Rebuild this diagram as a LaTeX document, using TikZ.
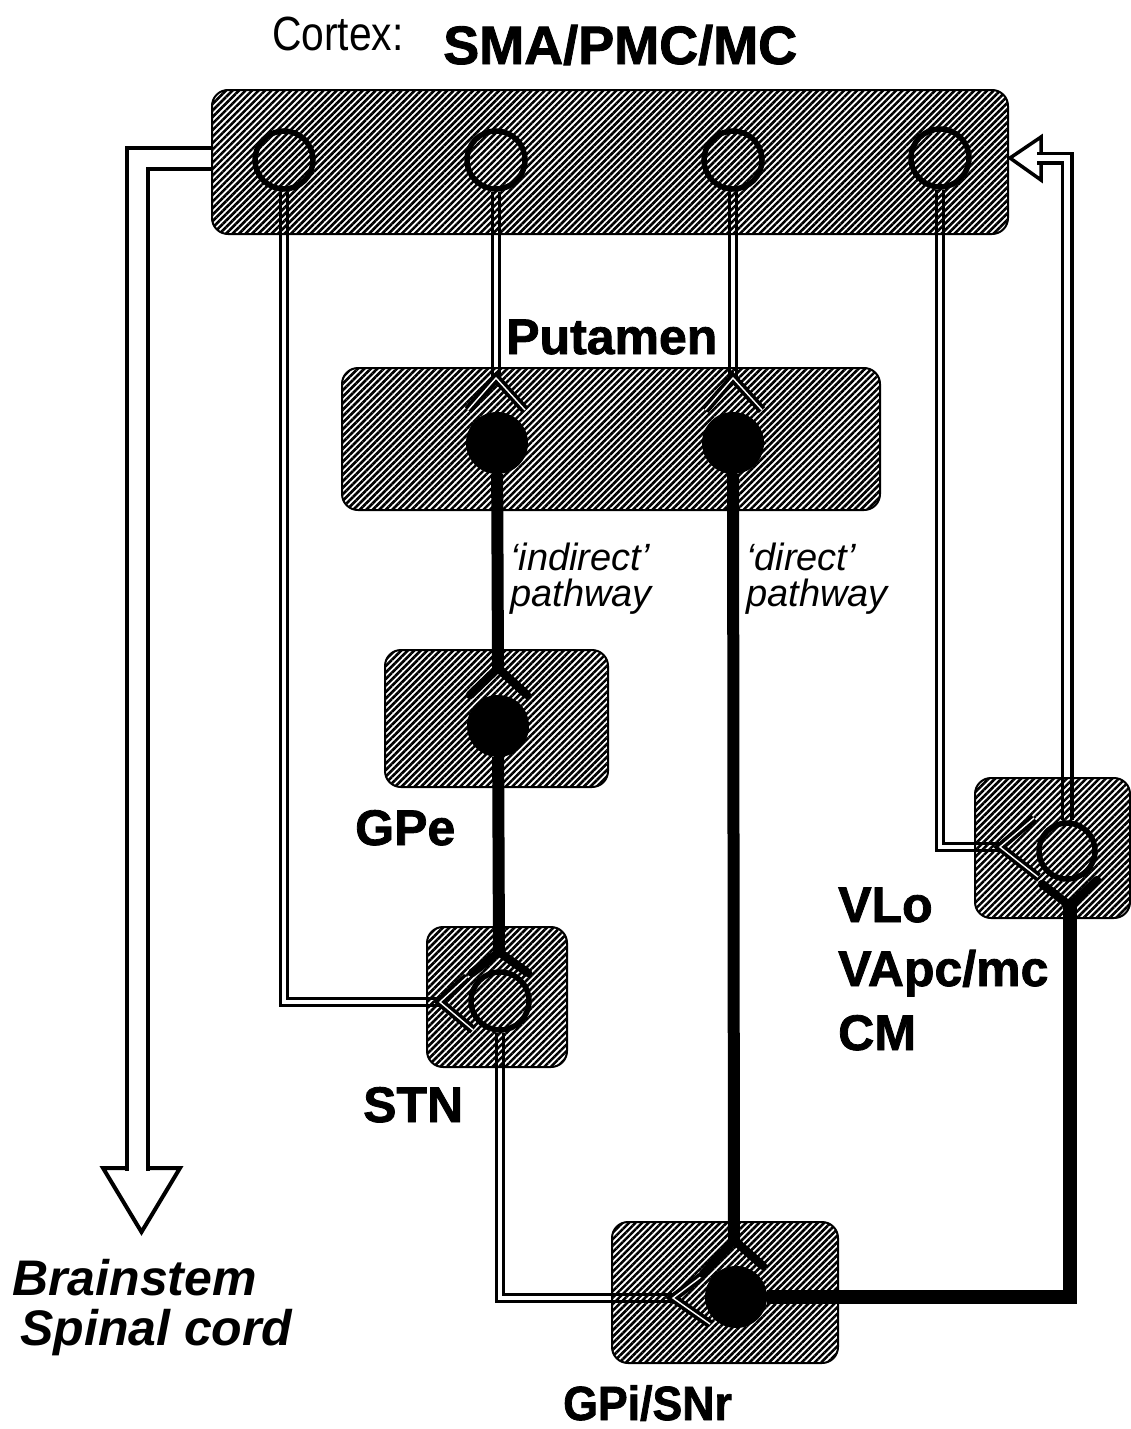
\documentclass[tikz,border=0pt]{standalone}
\usepackage{fontspec}
\setmainfont{Liberation Sans}[BoldFeatures={FakeBold=1.6}]
\usetikzlibrary{patterns.meta}
\pgfdeclarelayer{wires}
\pgfdeclarelayer{regions}
\pgfdeclarelayer{forks}
\pgfsetlayers{wires,regions,forks,main}
\begin{document}
\begin{tikzpicture}[x=1pt,y=-1pt,
  region/.style={draw=black, line width=2, rounded corners=16, inner sep=0,
    pattern={Lines[angle=45,distance=4.6pt,line width=2.6pt]}},
  opencell/.style={circle, draw=black, line width=5.5, inner sep=0, minimum size=58},
  solidcell/.style={circle, fill=black, inner sep=0, minimum size=62},
  exc/.style={draw=black, line width=3, double=white, double distance=4.5, line join=miter},
  bigexc/.style={draw=black, line width=4, double=white, double distance=17, line join=miter},
  excarm/.style={draw=black, line width=3.6, double=white, double distance=1.4, line join=miter},
  inh/.style={draw=black, line width=12, line join=miter},
  inharm/.style={draw=black, line width=8.5, line join=miter, line cap=round},
  hollowhead/.style={draw=black, fill=white, line width=3.5, line join=miter},
  lab/.style={anchor=base west, inner sep=0, font=\fontsize{50}{50}\selectfont\bfseries},
  pathlab/.style={anchor=base west, inner sep=0, font=\fontsize{38}{38}\selectfont\itshape},
]
\useasboundingbox (0,0) rectangle (1131,1429);

% ---------- cells ----------
\node[opencell] (c1) at (284,160) {};
\node[opencell] (c2) at (496,160) {};
\node[opencell] (c3) at (733,160) {};
\node[opencell] (c4) at (940,158) {};
\node[solidcell] (p1) at (497,443) {};
\node[solidcell] (p2) at (733,443) {};
\node[solidcell] (gpe) at (498,726) {};
\node[opencell] (stn) at (500,1001) {};
\node[solidcell] (gpi) at (736,1297) {};
\node[opencell, minimum size=56] (vl) at (1067,851) {};

% ---------- synapse points ----------
\coordinate (pv1) at (496,378); \coordinate (pv1a) at (468,410); \coordinate (pv1b) at (525,410);
\coordinate (pv2) at (733,378); \coordinate (pv2a) at (705,410); \coordinate (pv2b) at (762,410);
\coordinate (gpev) at (498,668); \coordinate (gpeva) at (470,695); \coordinate (gpevb) at (527,695);
\coordinate (stnv) at (499,952); \coordinate (stnva) at (472,973); \coordinate (stnvb) at (528,973);
\coordinate (stnx) at (440,1002); \coordinate (stnxa) at (467,977); \coordinate (stnxb) at (473,1030);
\coordinate (gpiv) at (734,1240); \coordinate (gpiva) at (703,1274); \coordinate (gpivb) at (763,1266);
\coordinate (gpix) at (673,1298); \coordinate (gpixa) at (702,1276); \coordinate (gpixb) at (710,1324);
\coordinate (vlx) at (1000,847); \coordinate (vlxa) at (1034,818); \coordinate (vlxb) at (1038,877);
\coordinate (vlv) at (1070,906); \coordinate (vlva) at (1042,884); \coordinate (vlvb) at (1097,880);
\coordinate (bs0) at (213,158); \coordinate (bs1) at (137.5,158); \coordinate (bs2) at (137.5,1171);
\coordinate (bsl) at (103,1168); \coordinate (bsr) at (180,1168); \coordinate (bstip) at (141.5,1232);
\coordinate (ah) at (1037,158); \coordinate (ahtip) at (1010,158);
\coordinate (ahu) at (1041,137); \coordinate (ahd) at (1041,180);

% ---------- connectors ----------
\begin{pgfonlayer}{wires}
  \draw[hollowhead, line width=4] (bsl) -- (bsr) -- (bstip) -- cycle;
  \draw[bigexc] (bs0) -- (bs1) -- (bs2);
  \draw[hollowhead] (ahtip) -- (ahu) -- (ahd) -- cycle;
  \draw[exc, line width=3.5, double distance=6] (vl.north) |- (ah);
  \draw[exc] (c1.south) |- (stnx);
  \draw[exc] (c2.south) -- (pv1);
  \draw[exc] (c3.south) -- (pv2);
  \draw[exc] (c4.south) |- (vlx);
  \draw[exc] (stn.south) |- (gpix);
  \draw[inh] (p1) -- (gpev);
  \draw[inh] (gpe) -- (stnv);
  \draw[inh] (p2) -- (gpiv);
  \draw[inh, line width=14] (gpi) -| (vlv);
\end{pgfonlayer}

% ---------- regions ----------
\begin{pgfonlayer}{regions}
  \node[region, minimum width=796, minimum height=144] (cortex) at (610,162) {};
  \node[region, minimum width=538, minimum height=142] (putamen) at (611,439) {};
  \node[region, minimum width=223, minimum height=137] (gperegion) at (496.5,718.5) {};
  \node[region, minimum width=140, minimum height=140] (stnregion) at (497,997) {};
  \node[region, minimum width=226, minimum height=141] (gpiregion) at (725,1292.5) {};
  \node[region, minimum width=155, minimum height=140] (vlregion) at (1052.5,848) {};
\end{pgfonlayer}

% ---------- synaptic forks ----------
\begin{pgfonlayer}{forks}
  \draw[excarm] (pv1a) -- (pv1) -- (pv1b);
  \draw[excarm] (pv2a) -- (pv2) -- (pv2b);
  \draw[excarm] (stnxa) -- (stnx) -- (stnxb);
  \draw[excarm] (gpixa) -- (gpix) -- (gpixb);
  \draw[excarm] (vlxa) -- (vlx) -- (vlxb);
  \draw[inharm] (gpeva) -- (gpev) -- (gpevb);
  \draw[inharm] (stnva) -- (stnv) -- (stnvb);
  \draw[inharm] (gpiva) -- (gpiv) -- (gpivb);
  \draw[inharm] (vlva) -- (vlv) -- (vlvb);
\end{pgfonlayer}

% ---------- labels ----------
\node[anchor=base west, inner sep=0, font=\fontsize{48}{48}\selectfont] (tcortex) at (272,51) {\scalebox{0.85}[1]{Cortex:}};
\node[lab, font=\fontsize{54}{54}\selectfont\bfseries] (tsma) at (443,64) {SMA/PMC/MC};
\node[lab] (tput) at (506,354) {Putamen};
\node[pathlab] (tind1) at (510,570) {‘indirect’};
\node[pathlab] (tind2) at (510,606) {pathway};
\node[pathlab] (tdir1) at (746,570) {‘direct’};
\node[pathlab] (tdir2) at (746,606) {pathway};
\node[lab] (tgpe) at (355,845) {GPe};
\node[lab] (tstn) at (363,1122) {STN};
\node[lab] (tvlo) at (838,922) {VLo};
\node[lab] (tvapc) at (838,986) {VApc/mc};
\node[lab] (tcm) at (838,1050) {CM};
\node[lab, font=\fontsize{48}{48}\selectfont\bfseries] (tgpi) at (563,1420) {\scalebox{0.93}[1]{GPi/SNr}};
\node[lab, font=\fontsize{50}{50}\selectfont\bfseries\itshape] (tbs) at (12,1295) {Brainstem};
\node[lab, font=\fontsize{50}{50}\selectfont\bfseries\itshape] (tsc) at (20,1345) {Spinal cord};
\end{tikzpicture}
\end{document}
